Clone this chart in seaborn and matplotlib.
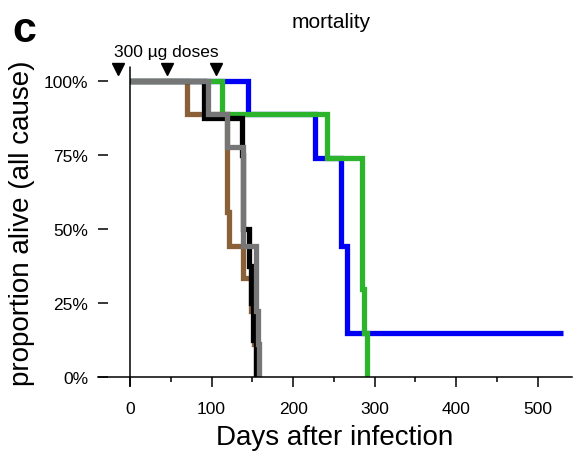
import pandas as pd
import matplotlib
matplotlib.use('Agg')
import matplotlib.pyplot as plt
import seaborn as sns

# survival curves (day, proportion alive)
blue_days = [0, 145, 227, 259, 266, 531]
blue_alive = [1.0, 0.889, 0.741, 0.444, 0.148, 0.148]

green_days = [0, 113, 241, 284, 287, 290]
green_alive = [1.0, 0.889, 0.741, 0.296, 0.148, 0.0]

brown_days = [0, 70, 119, 121, 139, 148, 152, 155]
brown_alive = [1.0, 0.889, 0.556, 0.444, 0.333, 0.222, 0.111, 0.0]

black_days = [0, 91, 137, 139, 146, 148, 151, 155]
black_alive = [1.0, 0.875, 0.75, 0.5, 0.375, 0.25, 0.125, 0.0]

gray_days = [0, 95, 119, 139, 155, 157, 158.5]
gray_alive = [1.0, 0.889, 0.778, 0.444, 0.222, 0.111, 0.0]

dose_days = [-15, 45, 105]

groups = ['blue', 'green', 'brown', 'black', 'gray']
colors = ['#0000f5', '#2cb52c', '#8a6038', '#000000', '#767676']

y_ticks = [0, 0.25, 0.5, 0.75, 1.0]
y_labels = ['0%', '25%', '50%', '75%', '100%']
x_ticks = [0, 100, 200, 300, 400, 500]
x_minor = [50, 150, 250, 350, 450]

frames = []
for g, d, a in zip(groups,
                   [blue_days, green_days, brown_days, black_days, gray_days],
                   [blue_alive, green_alive, brown_alive, black_alive, gray_alive]):
    frames.append(pd.DataFrame({'day': d, 'alive': a, 'group': g}))
df = pd.concat(frames, ignore_index=True)

sns.set_style('white')
plt.rcParams['font.family'] = ['Liberation Sans', 'DejaVu Sans']
plt.rcParams['text.color'] = 'black'
plt.rcParams['axes.labelcolor'] = 'black'

fig = plt.figure(figsize=(5.74, 4.52), dpi=100)
ax = fig.add_axes([98 / 574, 1 - 378 / 452, 474 / 574, 310 / 452])

sns.lineplot(data=df, x='day', y='alive', hue='group', hue_order=groups,
             palette=colors, estimator=None, sort=False, legend=False,
             drawstyle='steps-post', linewidth=3.8, ax=ax,
             solid_joinstyle='miter', solid_capstyle='butt')

ax.set_xlim(-39.3, 542)
ax.set_ylim(0, 310 / 296)

for s in ['top', 'right', 'left']:
    ax.spines[s].set_visible(False)
ax.spines['bottom'].set_color('black')
ax.spines['bottom'].set_linewidth(1.1)

# y axis drawn at day 0, a bit past the bottom spine
ax.axvline(0, ymin=-0.029, ymax=1, color='black', lw=1.1, clip_on=False)

ax.set_yticks(y_ticks)
ax.set_yticklabels(y_labels)
ax.set_xticks(x_ticks)
ax.set_xticks(x_minor, minor=True)
ax.tick_params(axis='y', direction='in', length=7.2, width=1.1, pad=7.2,
               labelsize=12.5, colors='black', left=True)
ax.tick_params(axis='x', which='major', direction='out', length=7.2,
               width=1.1, pad=10, labelsize=12.5, colors='black', bottom=True)
ax.tick_params(axis='x', which='minor', direction='out', length=3.6,
               width=1.1, bottom=True, colors='black')

ax.set_xlabel('Days after infection', fontsize=20, va='center')
ax.xaxis.set_label_coords(0.5, -0.194)
ax.set_ylabel('proportion alive (all cause)', fontsize=20, va='center')
ax.yaxis.set_label_coords(-0.160, 0.5)

# dose markers
ax.plot(dose_days, [1.04] * len(dose_days), linestyle='none', marker='v',
        markersize=8, color='black', clip_on=False)
ax.text(45, 1.10, '300 \u00b5g doses', ha='center', va='center', fontsize=12.5)

fig.text(331 / 574, 1 - 22 / 452, 'mortality', ha='center', va='center', fontsize=15)
fig.text(24 / 574, 1 - 31 / 452, 'c', ha='center', va='center', fontsize=31,
         fontweight='heavy')

fig.savefig('out.png', dpi=100)
